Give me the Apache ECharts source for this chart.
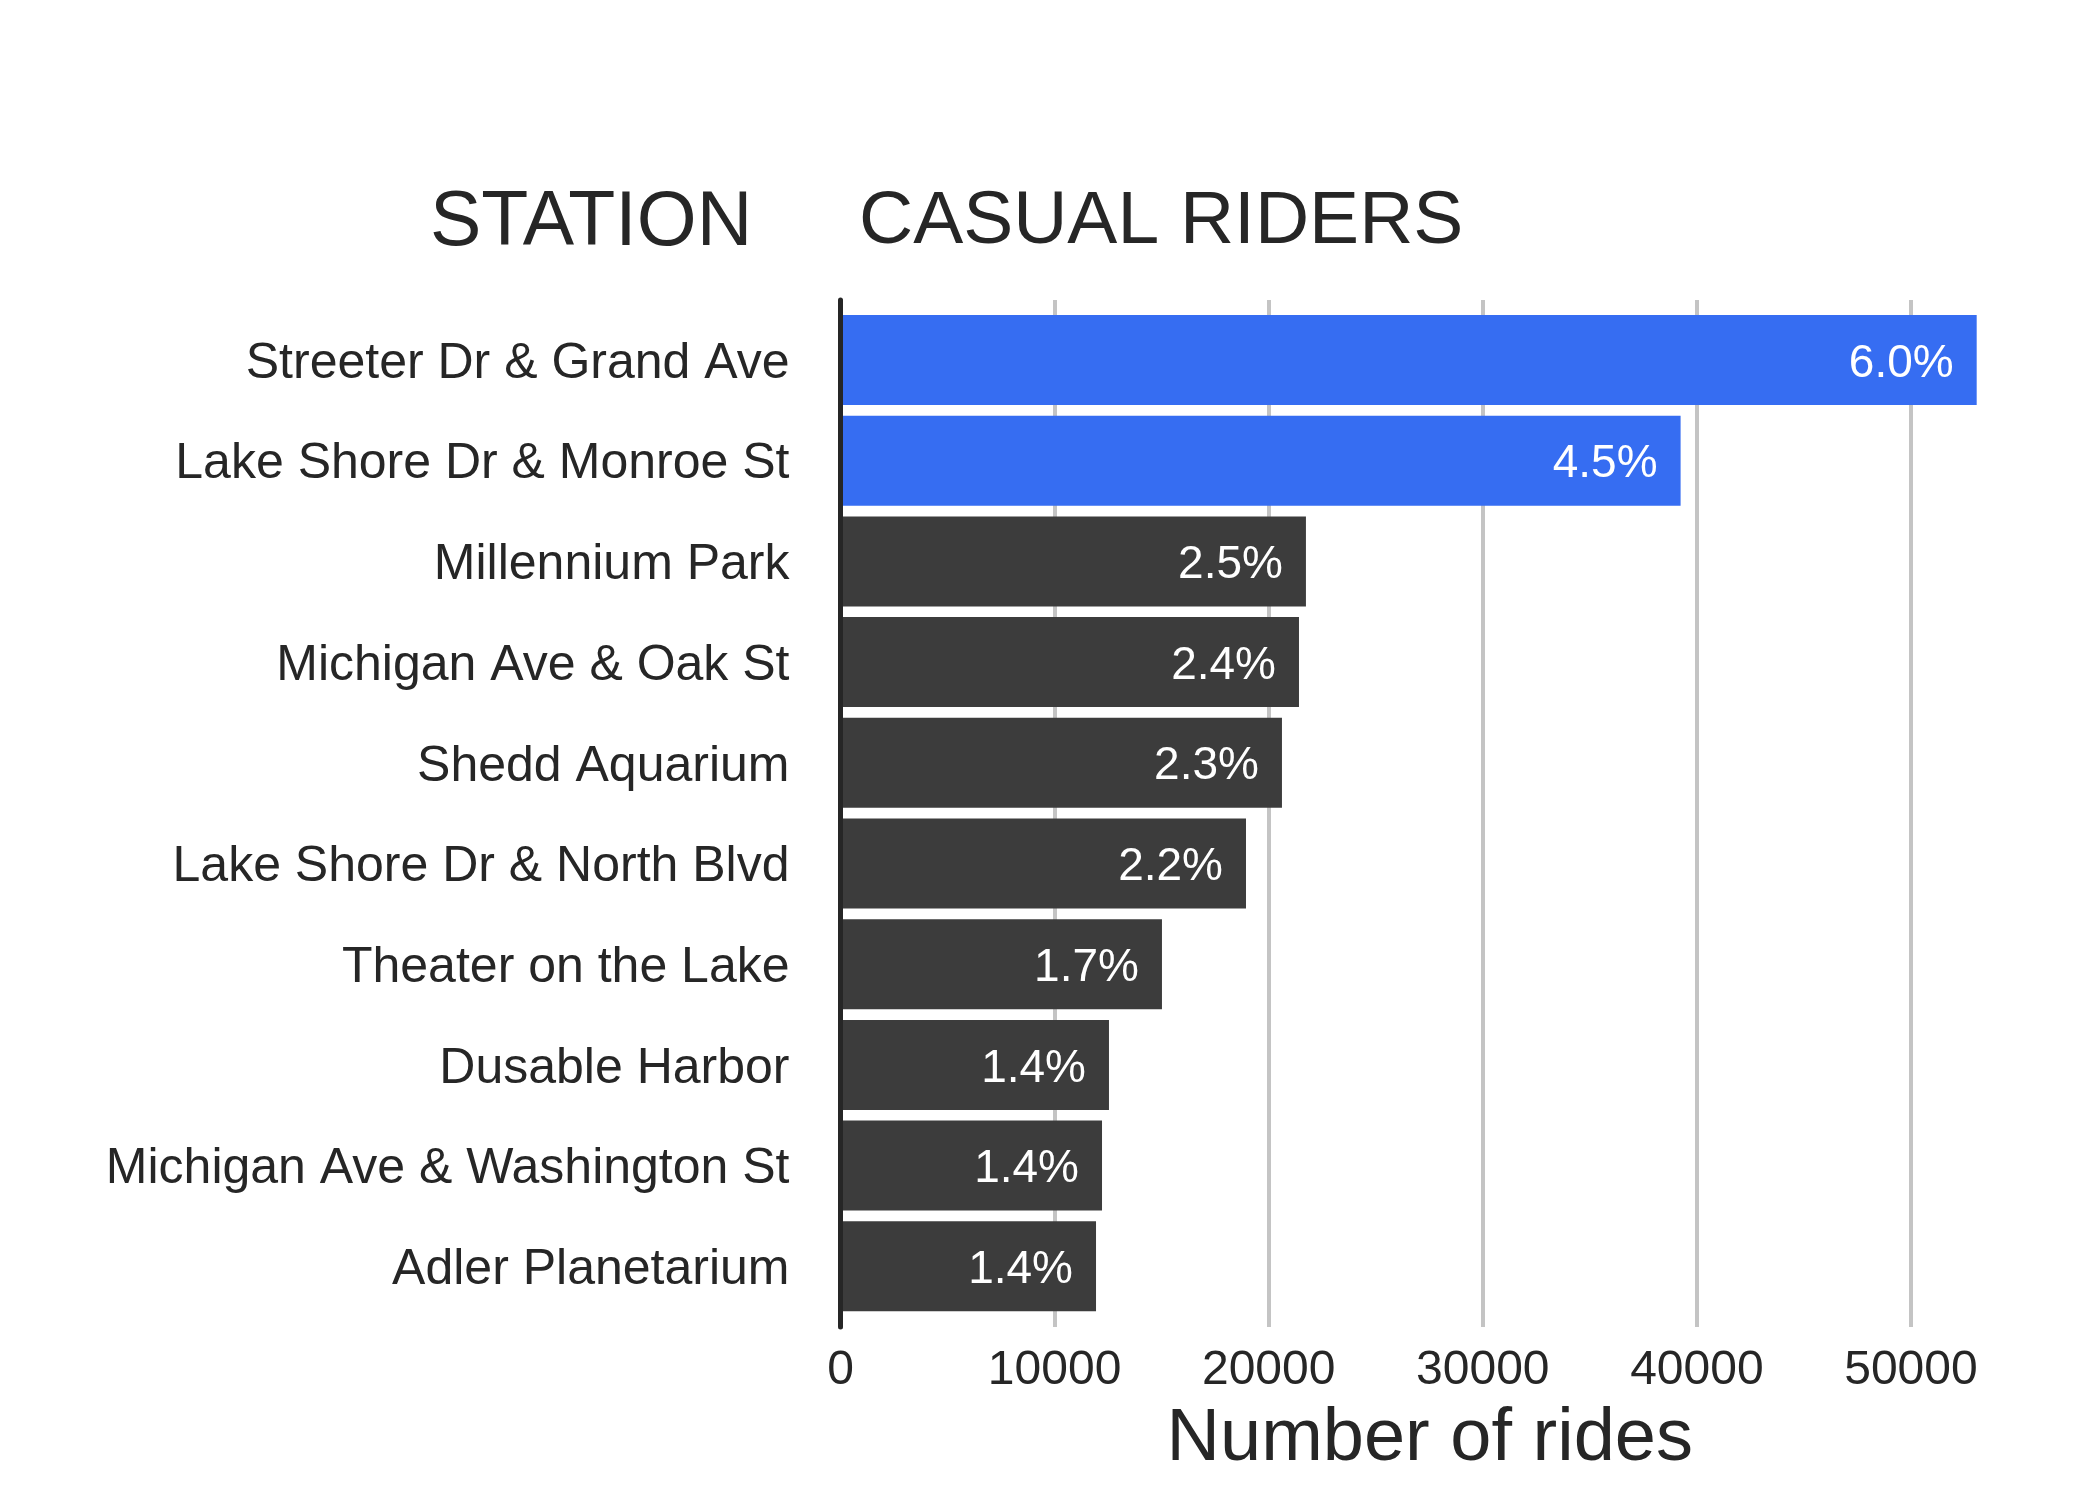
<!DOCTYPE html>
<html>
<head>
<meta charset="utf-8">
<script src="https://cdn.jsdelivr.net/npm/echarts@6/dist/echarts.min.js"></script>
<style>
html,body{margin:0;padding:0;background:#fff;}
#chart{width:2099px;height:1499px;}
</style>
</head>
<body>
<div id="chart"></div>
<script>
const stations = [
  'Streeter Dr & Grand Ave',
  'Lake Shore Dr & Monroe St',
  'Millennium Park',
  'Michigan Ave & Oak St',
  'Shedd Aquarium',
  'Lake Shore Dr & North Blvd',
  'Theater on the Lake',
  'Dusable Harbor',
  'Michigan Ave & Washington St',
  'Adler Planetarium'
];
const rides = [53070, 39240, 21740, 21415, 20620, 18940, 15015, 12540, 12215, 11935];
const shares = ['6.0%', '4.5%', '2.5%', '2.4%', '2.3%', '2.2%', '1.7%', '1.4%', '1.4%', '1.4%'];
const highlightCount = 2;

const FONT = "'Liberation Sans', Arial, Helvetica, sans-serif";
const TXT = '#262626';
const BLUE = '#366DF2';
const DARK = '#3C3C3C';

const chart = echarts.init(document.getElementById('chart'), null, {renderer: 'canvas'});
chart.setOption({
  backgroundColor: '#ffffff',
  animation: false,
  textStyle: {fontFamily: FONT},
  title: [
    {text: 'STATION', left: 430, top: 185, padding: 0,
     textStyle: {fontSize: 77, fontWeight: 'normal', color: TXT, fontFamily: FONT}},
    {text: 'CASUAL RIDERS', left: 859, top: 185, padding: 0,
     textStyle: {fontSize: 75, fontWeight: 'normal', color: TXT, fontFamily: FONT}}
  ],
  grid: [
    {left: 840.5, right: 66, top: 300, height: 1027, containLabel: false},
    {left: 840.5, right: 66, top: 309.65, height: 1007, containLabel: false},
    {left: 840.5, right: 66, top: 313.65, height: 1007, containLabel: false}
  ],
  xAxis: [
    {
      type: 'value', gridIndex: 0, min: 0, max: 55700, interval: 10000,
      axisLine: {show: false}, axisTick: {show: false},
      splitLine: {show: true, showMinLine: false, showMaxLine: false,
                  lineStyle: {color: '#C4C4C4', width: 4}},
      axisLabel: {fontSize: 48, color: TXT, margin: 20, fontFamily: FONT,
                  showMaxLabel: false,
                  formatter: function (v) { return String(v); }},
      name: 'Number of rides', nameLocation: 'middle', nameGap: 76,
      nameTextStyle: {fontSize: 74, color: TXT, fontFamily: FONT, padding: [0, 14, 0, 0]}
    },
    {
      type: 'value', gridIndex: 1, min: 0, max: 55700, show: false,
      splitLine: {show: false}
    },
    {
      type: 'value', gridIndex: 2, min: 0, max: 55700, show: false,
      splitLine: {show: false}
    }
  ],
  yAxis: [
    {
      type: 'category', gridIndex: 0, data: stations, inverse: true, z: 5,
      axisLine: {show: true, lineStyle: {color: TXT, width: 5}},
      axisTick: {show: false}, axisLabel: {show: false}, splitLine: {show: false}
    },
    {
      type: 'category', gridIndex: 1, data: stations, inverse: true,
      axisLine: {show: false}, axisTick: {show: false}, splitLine: {show: false},
      axisLabel: {show: false}
    },
    {
      type: 'category', gridIndex: 2, data: stations, inverse: true,
      axisLine: {show: false}, axisTick: {show: false}, splitLine: {show: false},
      axisLabel: {fontSize: 50, color: TXT, margin: 51, fontFamily: FONT}
    }
  ],
  series: [{
    type: 'bar',
    xAxisIndex: 1, yAxisIndex: 1,
    data: rides,
    barWidth: 90,
    itemStyle: {
      color: function (p) { return p.dataIndex < highlightCount ? BLUE : DARK; }
    },
    label: {
      show: true, position: 'insideRight', distance: 23, offset: [0, 4],
      color: '#ffffff', fontSize: 46, fontFamily: FONT,
      formatter: function (p) { return shares[p.dataIndex]; }
    }
  }]
});
</script>
</body>
</html>
